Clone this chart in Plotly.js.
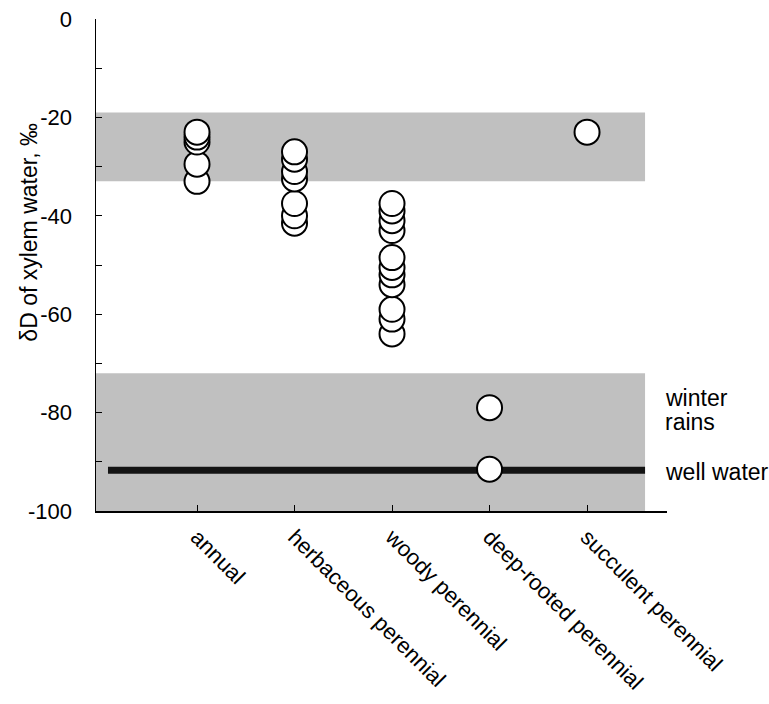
<!DOCTYPE html>
<html>
<head>
<meta charset="utf-8">
<script src="https://cdn.plot.ly/plotly-3.0.1.min.js"></script>
<style>html,body{margin:0;padding:0;background:#fff;}#chart{width:769px;height:704px;}</style>
</head>
<body>
<div id="chart"></div>
<script>
// ---- data ----
var categories = ["annual", "herbaceous perennial", "woody perennial", "deep-rooted perennial", "succulent perennial"];
// values in ‰, listed lowest first so higher circles are drawn on top
var annual = [-33, -29.5, -25, -24, -23];
var herbaceous = [-41.5, -40, -37.5, -32.5, -31, -28.5, -27];
var woody = [-64, -61, -59, -54, -52, -50.5, -48.5, -43, -41, -39, -37.5];
var deepRooted = [-91.5, -79];
var succulent = [-23];
var summerBand = [-33, -19];      // upper grey band
var winterBand = [-100, -72];     // lower grey band (winter rains)
var wellWater = -91.7;            // well water line
var yTicks = [0, -20, -40, -60, -80, -100];
var yTickText = ["0", "-20", "-40", "-60", "-80", "-100"];

var FONT = "Liberation Sans, Arial, Helvetica, sans-serif";
var groups = [annual, herbaceous, woody, deepRooted, succulent];
var traces = groups.map(function (vals, i) {
  return {
    type: "scatter", mode: "markers",
    x: vals.map(function () { return categories[i]; }),
    y: vals,
    marker: { size: 25, color: "#ffffff", symbol: "circle", line: { color: "#000000", width: 2 } },
    hoverinfo: "x+y", showlegend: false, cliponaxis: false
  };
});

var xLeft = -1.036, xRight = 4.82, bandRight = 4.595;
var layout = {
  width: 769, height: 704,
  margin: { l: 96, r: 102, t: 19, b: 193 },
  paper_bgcolor: "#ffffff", plot_bgcolor: "#ffffff",
  font: { family: FONT, color: "#000", size: 22 },
  showlegend: false,
  xaxis: {
    type: "category", categoryorder: "array", categoryarray: categories,
    range: [xLeft, xRight], showgrid: false, zeroline: false,
    showline: true, linecolor: "#000", linewidth: 1.5,
    ticks: "inside", ticklen: 6, tickcolor: "#000", tickwidth: 1,
    tickangle: 45, tickfont: { family: FONT, size: 22, color: "#000" },
    ticklabelstandoff: 3,
    fixedrange: true
  },
  yaxis: {
    range: [-100, 0], showgrid: false, zeroline: false,
    showline: true, linecolor: "#000", linewidth: 1.5,
    tickmode: "array", tickvals: yTicks, ticktext: yTickText,
    ticks: "inside", ticklen: 6, tickcolor: "#000", tickwidth: 1,
    minor: { tickmode: "linear", tick0: 0, dtick: 10, ticks: "inside", ticklen: 6, tickcolor: "#000", tickwidth: 1, showgrid: false },
    tickfont: { family: FONT, size: 22, color: "#000" },
    ticklabelstandoff: 18,
    fixedrange: true
  },
  shapes: [
    { type: "rect", layer: "below", xref: "x", yref: "y", x0: xLeft, x1: bandRight, y0: summerBand[0], y1: summerBand[1], fillcolor: "#c0c0c0", line: { width: 0 } },
    { type: "rect", layer: "below", xref: "x", yref: "y", x0: xLeft, x1: bandRight, y0: winterBand[0], y1: winterBand[1], fillcolor: "#c0c0c0", line: { width: 0 } },
    { type: "line", layer: "below", xref: "x", yref: "y", x0: -0.913, x1: bandRight, y0: wellWater, y1: wellWater, line: { color: "#141414", width: 7 } }
  ],
  annotations: [
    { xref: "paper", yref: "y", x: 0.993, y: -77, xanchor: "left", yanchor: "middle", text: "winter", showarrow: false, align: "left", font: { family: FONT, size: 23, color: "#000" } },
    { xref: "paper", yref: "y", x: 0.993, y: -82, xanchor: "left", yanchor: "middle", text: "rains", showarrow: false, align: "left", font: { family: FONT, size: 23, color: "#000" } },
    { xref: "paper", yref: "y", x: 0.993, y: -92, xanchor: "left", yanchor: "middle", text: "well water", showarrow: false, align: "left", font: { family: FONT, size: 23, color: "#000" } },
    { xref: "paper", yref: "paper", x: -0.118, y: 0.567, xanchor: "center", yanchor: "middle", textangle: -90, text: "δD of xylem water, ‰", showarrow: false, font: { family: FONT, size: 23, color: "#000" } }
  ]
};

Plotly.newPlot("chart", traces, layout, { displayModeBar: false, staticPlot: true });
</script>
</body>
</html>
